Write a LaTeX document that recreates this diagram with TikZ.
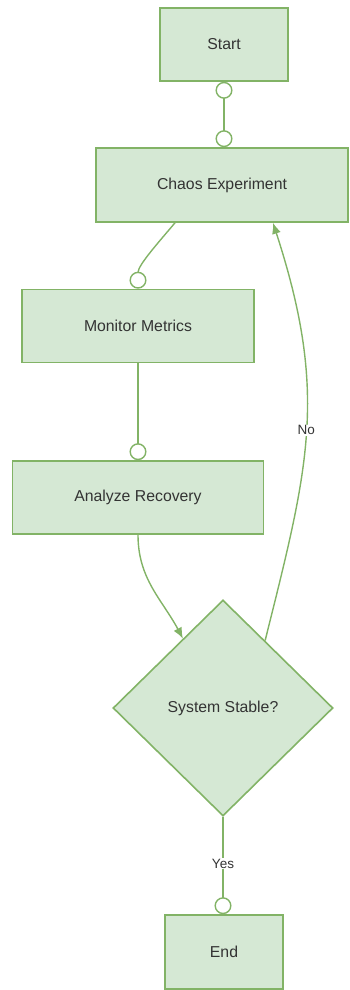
\documentclass[tikz,border=0pt]{standalone}
\usepackage{fontspec}
\setmainfont{Liberation Sans}
\usetikzlibrary{shapes.geometric,arrows.meta}
\definecolor{boxfill}{HTML}{D5E8D4}
\definecolor{boxline}{HTML}{82B366}
\definecolor{txt}{HTML}{333333}

\begin{document}
\begin{tikzpicture}[x=1pt,y=-1pt,
	block/.style={draw=boxline, fill=boxfill, line width=1.6pt, text=txt,
		font=\fontsize{15.8}{18}\selectfont, inner sep=0pt},
	decision/.style={block, diamond, minimum width=220pt, minimum height=216pt},
	link/.style={draw=boxline, line width=1.4pt},
	dot/.style={-{Circle[open,length=17pt,width=17pt]}},
	tip/.style={-{Latex[length=11pt,width=9pt]}},
	lbl/.style={fill=white, text=txt, font=\fontsize{13.5}{16}\selectfont, inner sep=1pt}]
		\useasboundingbox (0, 0) rectangle (349, 990);
		% boxes
		\node[block, minimum width=128pt, minimum height=73pt] (start) at (224, 44.5) {Start};
		\node[block, minimum width=252pt, minimum height=74pt] (chaos) at (222, 185) {Chaos Experiment};
		\node[block, minimum width=232pt, minimum height=73pt] (monitor) at (138, 326) {Monitor Metrics};
		\node[block, minimum width=251pt, minimum height=73pt] (analyze) at (138, 497.5) {Analyze Recovery};
		\node[decision] (stable) at (223, 708) {System Stable?};
		\node[block, minimum width=118pt, minimum height=74pt] (finish) at (224, 952) {End};
		% links
		\draw[link, {Circle[open,length=17pt,width=17pt]}-{Circle[open,length=17pt,width=17pt]}]
			(start.south) -- (start.south |- chaos.north);
		\draw[link, dot] ([xshift=-47pt]chaos.south) to[out=-130, in=90, looseness=0.8] (monitor.north);
		\draw[link, dot] (monitor) -- (analyze);
		\draw[link, tip] (analyze.south) to[out=-90, in=118] (stable.120);
		\draw[link, tip] (stable.58) to[out=76, in=-72, looseness=1.1] node[lbl] {No} ([xshift=51pt]chaos.south);
		\draw[link, dot] (stable.south) -- node[lbl, pos=0.48] {Yes} (stable.south |- finish.north);
	\end{tikzpicture}
\end{document}
